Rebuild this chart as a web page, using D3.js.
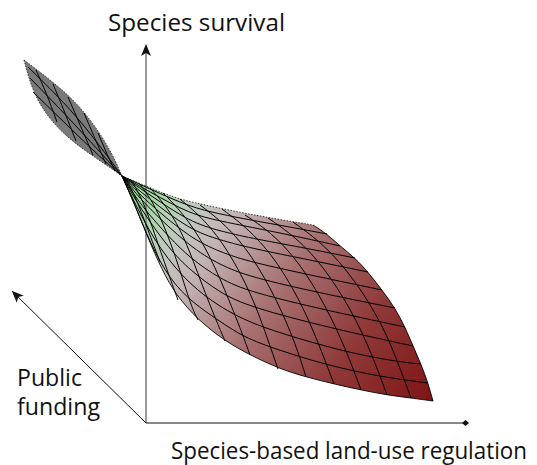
<!DOCTYPE html>
<html><head><meta charset="utf-8">
<script src="https://cdn.jsdelivr.net/npm/d3@7"></script>
<style>html,body{margin:0;padding:0;background:#fff}svg{display:block}text{font-family:"Open Sans",sans-serif;fill:#111;font-size:23px}</style>
</head><body><div id="c"></div>
<script>
const axisLabels=["Species survival","Species-based land-use regulation","Public","funding"];
const pinch=[122,176];
const lobeUpper=[[24,60],[52,81],[76,102],[96,127],[112,153],pinch];
const lobeLower=[[24,60],[32,90],[47,117],[71,141],[99,160],pinch];
const lobeAcross=[
[[36,70],[46,92],[57,122]],[[53,84],[63,108],[76,141]],[[68,97],[78,120],[93,155]],
[[84,113],[93,134],[106,164]],[[98,133],[106,152],[115,171]]];
const lobeAlong=[
[[28,67],[70,108],[100,146],pinch],[[30,78],[65,114],[100,152],pinch],
[[33,92],[68,126],[100,157],pinch]];
const topEdge=[pinch,[146,186],[170,196],[190,202],[243,213],[277,219],[313,225]];
const rightEdge=[[313,225],[327,234],[340,246],[355,258],[368,272],[382,290],[395,308],[405,327],[413,346],[421,364],[428,383],[433,401]];
const bottomEdge=[pinch,[135,205],[148,238],[162,270],[176,295],[198,320],[225,341],[250,355],[280,369],[306,377],[334,384],[361,390],[387,395],[411,398],[433,401]];
const fanLines=[
[pinch,[150,189],[190,207],[220,214],[250,220],[290,227],[327,234]],
[pinch,[150,192],[190,214],[220,221],[250,227],[295,236],[340,246]],
[pinch,[150,195],[190,222],[220,231],[250,238],[300,247],[355,258]],
[pinch,[148,198],[190,230],[220,240],[250,248],[310,260],[368,272]],
[pinch,[146,201],[190,238],[220,252],[250,262],[315,276],[382,290]],
[pinch,[144,204],[190,247],[220,265],[250,277],[320,293],[395,308]],
[pinch,[142,207],[170,238],[190,258],[220,279],[250,292],[325,310],[405,327]],
[pinch,[140,208],[170,250],[190,270],[220,293],[250,307],[330,328],[413,346]],
[pinch,[137,208],[160,250],[190,285],[220,307],[250,323],[296,338],[350,353],[399,362],[421,364]],
[pinch,[135,205],[150,243],[170,280],[193,303],[218,320],[243,337],[278,350],[330,366],[382,377],[428,383]]];
const crossLines=[
[[293,222],[325,245],[355,280],[383,325],[400,368],[411,398]],
[[268,218],[300,240],[330,275],[358,322],[376,365],[387,395]],
[[245,215],[275,235],[305,270],[332,318],[350,360],[361,390]],
[[222,209],[250,230],[278,262],[305,310],[323,355],[334,384]],
[[200,205],[225,224],[252,255],[278,302],[296,345],[306,377]],
[[180,199],[205,220],[228,250],[252,295],[268,340],[278,369]],
[[163,193],[182,212],[205,245],[225,290],[241,330],[250,355]],
[[150,188],[168,208],[185,238],[202,285],[216,320],[225,341]],
[[140,184],[155,205],[170,240],[183,280],[192,308],[198,320]],
[[131,180],[143,200],[155,235],[167,270],[178,300]],
[[125,178],[135,195],[148,230],[160,262]]];
const gradientStops=[[0,"#8ee08e"],[0.1,"#a6d8a6"],[0.2,"#c2cac0"],[0.3,"#c4b4b4"],[0.5,"#a87272"],[0.75,"#8f3838"],[1,"#7f1414"]];

const W=537,H=465;
const x=d3.scaleLinear().domain([0,537]).range([0,W]);
const y=d3.scaleLinear().domain([0,465]).range([0,H]);
const svg=d3.select("#c").append("svg").attr("width",W).attr("height",H);
const curve=d3.line().x(d=>x(d[0])).y(d=>y(d[1])).curve(d3.curveBasis);
const defs=svg.append("defs");
const g=defs.append("linearGradient").attr("id","sg").attr("gradientUnits","userSpaceOnUse")
 .attr("x1",x(pinch[0])).attr("y1",y(pinch[1])).attr("x2",x(433)).attr("y2",y(401));
gradientStops.forEach(s=>g.append("stop").attr("offset",s[0]).attr("stop-color",s[1]));
const mk=(id,w,h,p)=>defs.append("marker").attr("id",id).attr("viewBox","0 0 "+w+" "+h).attr("markerUnits","userSpaceOnUse")
 .attr("markerWidth",w).attr("markerHeight",h).attr("refX",w/2).attr("refY",h/2).attr("orient","auto").append("path").attr("d",p).attr("fill","#111");
mk("arr",12,10,"M12,5L0,0L3,5L0,10Z");
mk("dia",8,8,"M0,4L3.5,1L7,4L3.5,7Z");

svg.append("path").attr("fill","#7a7a7a").attr("d",curve(lobeUpper)+curve(lobeLower.slice().reverse()).replace("M","L")+"Z");
svg.append("path").attr("fill","url(#sg)").attr("d",
  curve(topEdge)+curve(rightEdge).replace("M","L")+curve(bottomEdge.slice().reverse()).replace("M","L")+"Z");
const O=[146,423];
svg.append("line").attr("x1",x(O[0])).attr("y1",y(O[1])).attr("x2",x(146)).attr("y2",y(50))
 .attr("stroke","#808080").attr("stroke-width",1.6).attr("marker-end","url(#arr)");
svg.append("line").attr("x1",x(O[0])).attr("y1",y(O[1])).attr("x2",x(466)).attr("y2",y(423))
 .attr("stroke","#111").attr("stroke-width",1).attr("marker-end","url(#dia)");
svg.append("line").attr("x1",x(O[0])).attr("y1",y(O[1])).attr("x2",x(16)).attr("y2",y(295))
 .attr("stroke","#111").attr("stroke-width",1).attr("marker-end","url(#arr)");
const lines=svg.append("g").attr("fill","none").attr("stroke","#000").attr("stroke-width",1);
lines.selectAll("path.a").data(fanLines.concat(crossLines,lobeAcross,lobeAlong)).join("path").attr("class","a").attr("d",curve);
lines.append("path").attr("d",curve(rightEdge)).attr("stroke-width",.9);
lines.append("path").attr("d",curve(bottomEdge)).attr("stroke-width",.9);
const dashed=svg.append("g").attr("fill","none").attr("stroke","#000").attr("stroke-width",.7).attr("stroke-dasharray","1.5 1.5");
[lobeUpper,lobeLower,topEdge].forEach(e=>dashed.append("path").attr("d",curve(e)));
const T=(s,a,b,len)=>svg.append("text").attr("x",x(a)).attr("y",y(b)).attr("textLength",len).attr("lengthAdjust","spacingAndGlyphs").text(s);
T(axisLabels[0],108,31,177);
T(axisLabels[1],171,459,356);
T(axisLabels[2],17,386,65);
T(axisLabels[3],17,415,83);
</script></body></html>
